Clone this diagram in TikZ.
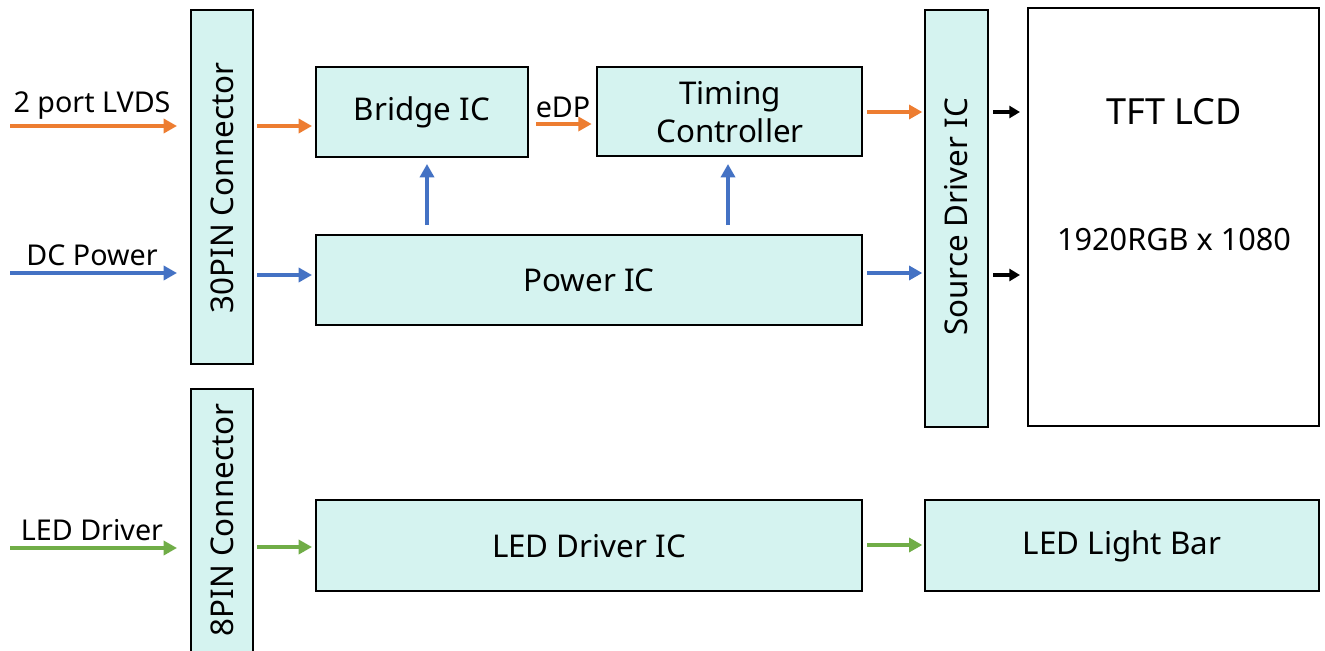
\documentclass[tikz,border=0pt]{standalone}
\usepackage{fontspec}
\setmainfont{Noto Sans}
\usetikzlibrary{arrows.meta}
\definecolor{boxfill}{RGB}{213,243,240}
\definecolor{aorange}{RGB}{237,125,49}
\definecolor{ablue}{RGB}{68,114,196}
\definecolor{agreen}{RGB}{112,173,71}
\tikzset{
  blk/.style={draw=black,line width=1.5pt,fill=boxfill},
  lbl/.style={font=\fontsize{23.5}{27}\selectfont},
  inlbl/.style={font=\fontsize{21.5}{25}\selectfont},
  arr/.style={line width=2.8pt,-{Triangle[length=10pt,width=10.5pt]}},
  barr/.style={line width=2.8pt,-{Triangle[length=8pt,width=9pt]}},
}
\begin{document}
\begin{tikzpicture}[x=0.75pt,y=-0.75pt]
\useasboundingbox (0,0) rectangle (1325,650);
\fill[white] (0,0) rectangle (1325,650);
\begin{scope}
\clip (0,0) rectangle (1325,650);
% boxes
\draw[blk] (191,10) rectangle (253,364);
\node[lbl,rotate=90] (c30) at (222,188) {30PIN Connector};
\draw[blk] (191,389) rectangle (253,680);
\node[lbl,rotate=90] (c8) at (222,520) {8PIN Connector};
\end{scope}
\coordinate (c30a) at (253,126);
\coordinate (c30b) at (253,275);
\coordinate (c8a) at (253,547);

\draw[blk] (316,67) rectangle (528,157);
\node[lbl] (bridge) at (422,112) {Bridge IC};
\draw[blk] (597,67) rectangle (862,156);
\node[lbl,align=center] (tcon) at (730,112) {Timing\\[1pt]Controller};
\draw[blk] (316,235) rectangle (862,325);
\node[lbl] (power) at (589,280) {Power IC};
\draw[blk] (925,10) rectangle (988,427);
\node[lbl,rotate=90] (src) at (956,217) {Source Driver IC};
\draw[draw=black,line width=1.5pt,fill=white] (1028,8) rectangle (1319,426);
\node[font=\fontsize{27}{31}\selectfont] (tft) at (1174,112) {TFT LCD};
\node[font=\fontsize{23}{27}\selectfont] (res) at (1174,240) {1920RGB x 1080};
\draw[blk] (316,500) rectangle (862,591);
\node[lbl] (ledic) at (589,546) {LED Driver IC};
\draw[blk] (925,500) rectangle (1319,591);
\node[lbl] (bar) at (1122,546) {LED Light Bar};

% input coordinates
\coordinate (in1s) at (10,126); \coordinate (in1e) at (177,126);
\coordinate (in2s) at (10,273); \coordinate (in2e) at (177,273);
\coordinate (in3s) at (10,548); \coordinate (in3e) at (177,548);
\node[inlbl,anchor=south] (lvds) at (92,124) {2 port LVDS};
\node[inlbl,anchor=south] (dcp) at (92,270) {DC Power};
\node[inlbl,anchor=south] (ledd) at (92,545) {LED Driver};

\draw[arr,aorange] (in1s) -- (in1e);
\draw[arr,ablue] (in2s) -- (in2e);
\draw[arr,agreen] (in3s) -- (in3e);

\coordinate (bl) at (316,126);
\coordinate (pl) at (316,275);
\coordinate (ll) at (316,547);
\draw[arr,aorange] ([xshift=3pt]c30a) -- ([xshift=-3pt]bl);
\draw[arr,ablue] ([xshift=3pt]c30b) -- ([xshift=-3pt]pl);
\draw[arr,agreen] ([xshift=3pt]c8a) -- ([xshift=-3pt]ll);

% eDP
\coordinate (br) at (528,124);
\coordinate (tl) at (597,124);
\draw[arr,aorange] ([xshift=6pt]br) -- ([xshift=-4pt]tl);
\node[inlbl,anchor=south] (edp) at (563,122) {eDP};

% vertical blue
\coordinate (p1) at (427,225); \coordinate (b1) at (427,164);
\coordinate (p2) at (728,225); \coordinate (t1) at (728,164);
\draw[arr,ablue] (p1) -- (b1);
\draw[arr,ablue] (p2) -- (t1);

% to source driver
\coordinate (tr) at (862,112); \coordinate (s1) at (925,112);
\coordinate (pr) at (862,273); \coordinate (s2) at (925,273);
\draw[arr,aorange] ([xshift=4pt]tr) -- ([xshift=-2pt]s1);
\draw[arr,ablue] ([xshift=4pt]pr) -- ([xshift=-2pt]s2);

% led driver to bar
\coordinate (lr) at (862,545); \coordinate (bb) at (925,545);
\draw[arr,agreen] ([xshift=4pt]lr) -- ([xshift=-2pt]bb);

% source to TFT
\coordinate (sr1) at (988,112); \coordinate (t1l) at (1028,112);
\coordinate (sr2) at (988,275); \coordinate (t2l) at (1028,275);
\draw[barr,black] ([xshift=4pt]sr1) -- ([xshift=-6pt]t1l);
\draw[barr,black] ([xshift=4pt]sr2) -- ([xshift=-6pt]t2l);
\end{tikzpicture}
\end{document}
